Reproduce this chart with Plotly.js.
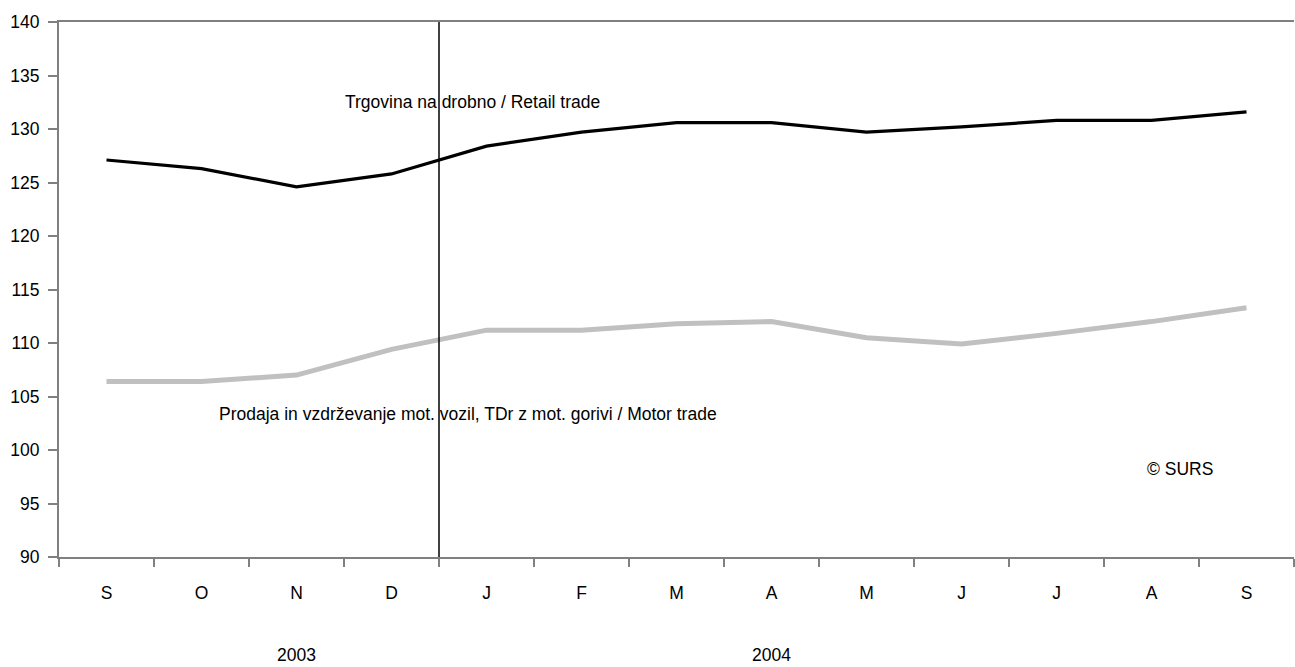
<!DOCTYPE html>
<html>
<head>
<meta charset="utf-8">
<script src="https://cdn.plot.ly/plotly-3.0.1.min.js"></script>
<style>html,body{margin:0;padding:0;background:#fff;}#chart{width:1295px;height:667px;}</style>
</head>
<body>
<div id="chart"></div>
<script>
var months = ["S", "O", "N", "D", "J", "F", "M", "A", "M", "J", "J", "A", "S"];
var retailTrade = [127.1, 126.3, 124.6, 125.8, 128.4, 129.7, 130.6, 130.6, 129.7, 130.2, 130.8, 130.8, 131.6];
var motorTrade = [106.4, 106.4, 107.0, 109.4, 111.2, 111.2, 111.8, 112.0, 110.5, 109.9, 110.9, 112.0, 113.3];
var yearLabels = ["2003", "2004"];
var retailLabel = "Trgovina na drobno / Retail trade";
var motorLabel = "Prodaja in vzdrževanje mot. vozil, TDr z mot. gorivi / Motor trade";
var sourceLabel = "© SURS";

var idx = months.map(function (m, i) { return i; });
var font = {family: "Liberation Sans, Arial, sans-serif", size: 17.5, color: "#000"};

var traces = [
  {x: idx, y: motorTrade, type: "scatter", mode: "lines", line: {color: "#c0c0c0", width: 5}, hoverinfo: "skip"},
  {x: idx, y: retailTrade, type: "scatter", mode: "lines", line: {color: "#000", width: 3.2}, hoverinfo: "skip"}
];

var layout = {
  width: 1295, height: 667,
  margin: {l: 59, r: 1, t: 22, b: 110},
  paper_bgcolor: "#fff", plot_bgcolor: "#fff",
  showlegend: false,
  font: font,
  xaxis: {
    type: "category",
    range: [-0.5, 12.5],
    tickmode: "array", tickvals: idx, ticktext: months,
    tickson: "boundaries",
    showgrid: false, zeroline: false,
    showline: true, linecolor: "#808080", linewidth: 2, mirror: true,
    ticks: "outside", ticklen: 8, tickcolor: "#808080", tickwidth: 2,
    ticklabelstandoff: 19,
    tickfont: font, fixedrange: true
  },
  yaxis: {
    range: [90, 140], dtick: 5, tick0: 90,
    showgrid: false, zeroline: false,
    showline: true, linecolor: "#808080", linewidth: 2,
    ticks: "outside", ticklen: 9, tickcolor: "#808080", tickwidth: 2,
    ticklabelstandoff: 5,
    tickfont: font, fixedrange: true
  },
  shapes: [
    {type: "line", xref: "x", yref: "paper", x0: 3.5, x1: 3.5, y0: 0, y1: 1, line: {color: "#000", width: 1.5}}
  ],
  annotations: [
    {text: retailLabel, xref: "x", yref: "y", x: 2.49, y: 132.5, xanchor: "left", yanchor: "middle", showarrow: false, font: font},
    {text: motorLabel, xref: "x", yref: "y", x: 1.165, y: 103.4, xanchor: "left", yanchor: "middle", showarrow: false, font: font},
    {text: sourceLabel, xref: "x", yref: "y", x: 10.93, y: 98.2, xanchor: "left", yanchor: "middle", showarrow: false, font: font},
    {text: yearLabels[0], xref: "x", yref: "paper", x: 2, y: -0.183, xanchor: "center", yanchor: "middle", showarrow: false, font: font},
    {text: yearLabels[1], xref: "x", yref: "paper", x: 7, y: -0.183, xanchor: "center", yanchor: "middle", showarrow: false, font: font}
  ]
};

Plotly.newPlot("chart", traces, layout, {displayModeBar: false, staticPlot: true});
</script>
</body>
</html>
